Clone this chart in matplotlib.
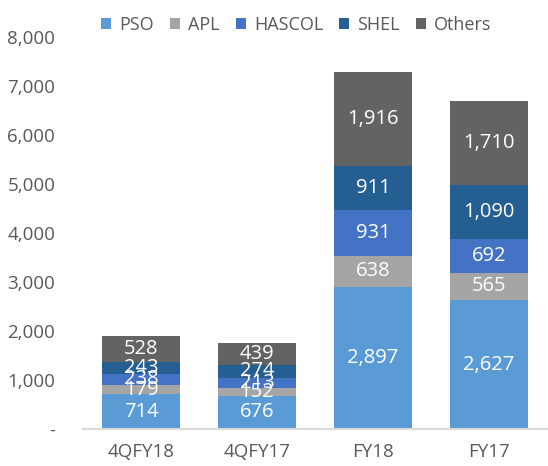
import numpy as np
from matplotlib import pyplot as plt
from matplotlib.ticker import FuncFormatter

# data
categories = ['4QFY18', '4QFY17', 'FY18', 'FY17']
series_names = ['PSO', 'APL', 'HASCOL', 'SHEL', 'Others']
pso = [714, 676, 2897, 2627]
apl = [179, 152, 638, 565]
hascol = [238, 213, 931, 692]
shel = [243, 274, 911, 1090]
others = [528, 439, 1916, 1710]
colors = ['#5B9BD5', '#A5A5A5', '#4472C4', '#255E91', '#636363']

plt.rcParams['font.family'] = ['Open Sans', 'DejaVu Sans']

fig = plt.figure(figsize=(5.48, 4.66), dpi=100)
ax = fig.add_axes([0.1515, 0.0794, 0.8465, 0.8412])

x = np.arange(len(categories))
bottom = np.zeros(len(categories))
for name, vals, c in zip(series_names, [pso, apl, hascol, shel, others], colors):
    vals = np.array(vals)
    ax.bar(x, vals, width=0.67, bottom=bottom, color=c, label=name)
    for xi, b, v in zip(x, bottom, vals):
        ax.text(xi, b + v / 2, f'{v:,}', ha='center', va='center',
                color='white', fontsize=14.5)
    bottom += vals

ax.set_xlim(-0.5, 3.5)
ax.set_ylim(0, 8000)
ax.set_yticks(range(0, 8001, 1000))
ax.yaxis.set_major_formatter(FuncFormatter(lambda v, p: '-' if v == 0 else f'{int(v):,}'))
ax.set_xticks(x)
ax.set_xticklabels(categories)
ax.tick_params(axis='both', length=0, labelsize=13.5, labelcolor='#595959')
ax.tick_params(axis='y', pad=20)
ax.tick_params(axis='x', pad=10)
for s in ['top', 'right', 'left']:
    ax.spines[s].set_visible(False)
ax.spines['bottom'].set_color('#D9D9D9')
ax.spines['bottom'].set_linewidth(1.5)

ax.legend(loc='lower center', bbox_to_anchor=(0.46, 0.99), ncol=5, frameon=False,
          fontsize=13, labelcolor='#595959', handlelength=0.55, handleheight=0.55,
          handletextpad=0.45, columnspacing=0.9, borderaxespad=0)

fig.savefig('out.png', dpi=100)
